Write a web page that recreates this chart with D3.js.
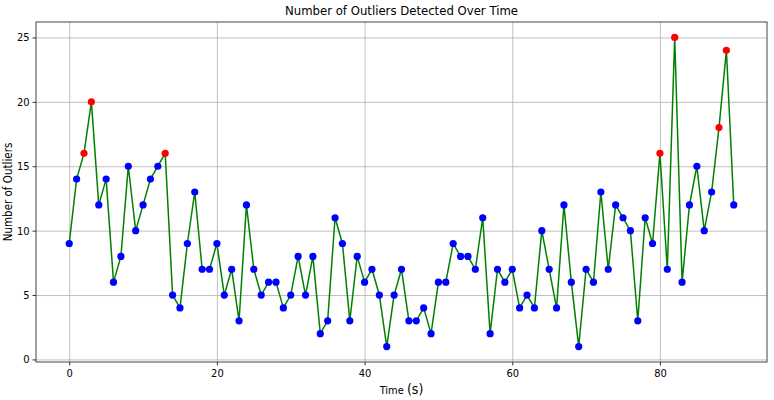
<!DOCTYPE html>
<html>
<head>
<meta charset="utf-8">
<script src="https://cdn.jsdelivr.net/npm/d3@7"></script>
<style>
  body { margin: 0; background: #fff; }
  text { font-family: "DejaVu Sans Condensed", "DejaVu Sans", sans-serif; fill: #000; }
</style>
</head>
<body>
<div id="chart"></div>
<script>
// data
var times = d3.range(0, 91);
var counts = [
  9, 14, 16, 20, 12, 14, 6, 8, 15, 10,
  12, 14, 15, 16, 5, 4, 9, 13, 7, 7,
  9, 5, 7, 3, 12, 7, 5, 6, 6, 4,
  5, 8, 5, 8, 2, 3, 11, 9, 3, 8,
  6, 7, 5, 1, 5, 7, 3, 3, 4, 2,
  6, 6, 9, 8, 8, 7, 11, 2, 7, 6,
  7, 4, 5, 4, 10, 7, 4, 12, 6, 1,
  7, 6, 13, 7, 12, 11, 10, 3, 11, 9,
  16, 7, 25, 6, 12, 15, 10, 13, 18, 24,
  12
];
var outlierIdx = [2, 3, 13, 80, 82, 88, 89];
var xTicks = [0, 20, 40, 60, 80];
var yTicks = [0, 5, 10, 15, 20, 25];

var W = 774, H = 400;
var margin = { top: 22, right: 7, bottom: 38, left: 36 };
var width = W - margin.left - margin.right;
var height = H - margin.top - margin.bottom;

var x = d3.scaleLinear().domain([-4.5, 94.5]).range([0, width]);
var y = d3.scaleLinear().domain([-0.2, 26.2]).range([height, 0]);

var svg = d3.select("#chart").append("svg")
  .attr("width", W)
  .attr("height", H)
  .append("g")
  .attr("transform", "translate(" + margin.left + "," + margin.top + ")");

// grid
svg.append("g")
  .attr("transform", "translate(0," + height + ")")
  .call(d3.axisBottom(x).tickValues(xTicks).tickSize(-height).tickFormat(""))
  .call(function (g) { g.select(".domain").remove(); })
  .selectAll("line").attr("stroke", "#b0b0b0").attr("stroke-width", 0.8);

svg.append("g")
  .call(d3.axisLeft(y).tickValues(yTicks).tickSize(-width).tickFormat(""))
  .call(function (g) { g.select(".domain").remove(); })
  .selectAll("line").attr("stroke", "#b0b0b0").attr("stroke-width", 0.8);

// axes
var xAxis = svg.append("g")
  .attr("transform", "translate(0," + height + ")")
  .call(d3.axisBottom(x).tickValues(xTicks).tickSize(3.5).tickPadding(4));
xAxis.select(".domain").remove();
xAxis.selectAll("text").attr("font-size", 11).style("font-family", "DejaVu Sans Condensed, DejaVu Sans");
xAxis.selectAll("line").attr("stroke", "#333");

var yAxis = svg.append("g")
  .call(d3.axisLeft(y).tickValues(yTicks).tickSize(3.5).tickPadding(3));
yAxis.select(".domain").remove();
yAxis.selectAll("text").attr("font-size", 11).style("font-family", "DejaVu Sans Condensed, DejaVu Sans");
yAxis.selectAll("line").attr("stroke", "#333");

// frame
svg.append("rect")
  .attr("width", width)
  .attr("height", height)
  .attr("fill", "none")
  .attr("stroke", "#444")
  .attr("stroke-width", 1);

// line
var line = d3.line()
  .x(function (d, i) { return x(times[i]); })
  .y(function (d) { return y(d); });

svg.append("path")
  .datum(counts)
  .attr("fill", "none")
  .attr("stroke", "#008000")
  .attr("stroke-width", 1.5)
  .attr("d", line);

// points
svg.selectAll("circle")
  .data(counts)
  .enter().append("circle")
  .attr("cx", function (d, i) { return x(times[i]); })
  .attr("cy", function (d) { return y(d); })
  .attr("r", 3.6)
  .attr("fill", function (d, i) { return outlierIdx.indexOf(i) >= 0 ? "#ff0000" : "#0000ff"; });

// title
svg.append("text")
  .attr("x", width / 2)
  .attr("y", -7)
  .attr("text-anchor", "middle")
  .attr("font-size", 13)
  .text("Number of Outliers Detected Over Time");

// axis labels
var xl = svg.append("text")
  .attr("x", width / 2)
  .attr("y", height + 32)
  .attr("text-anchor", "middle")
  .attr("font-size", 11);
xl.append("tspan").text("Time ");
xl.append("tspan").attr("font-size", 14).text("(s)");

svg.append("text")
  .attr("transform", "rotate(-90)")
  .attr("x", -height / 2)
  .attr("y", -24)
  .attr("text-anchor", "middle")
  .attr("font-size", 11.5)
  .text("Number of Outliers");
</script>
</body>
</html>
